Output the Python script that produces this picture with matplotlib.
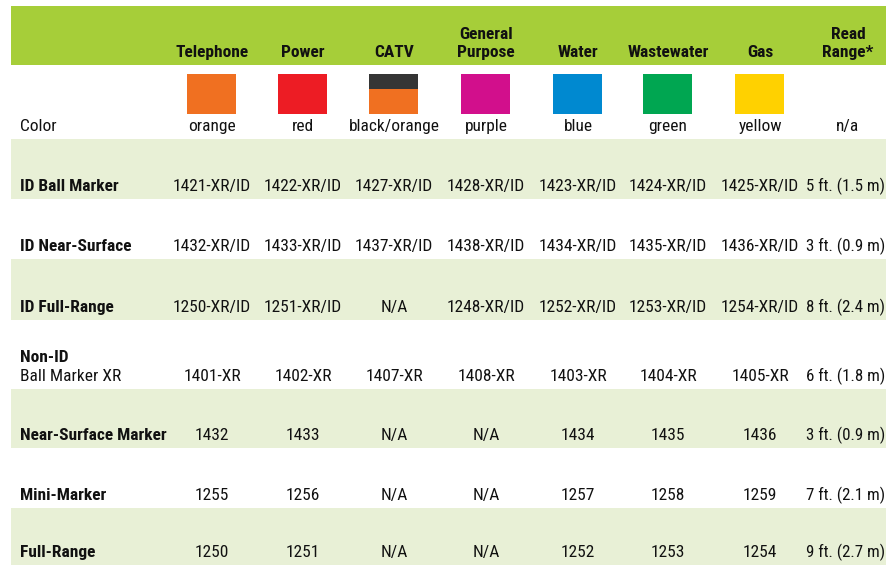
"""
Marker selection table: utility colours, part numbers and read ranges.
"""

import matplotlib.pyplot as plt
from matplotlib.patches import Rectangle

# ---- data -------------------------------------------------------------
columns = ["Telephone", "Power", "CATV", "General\nPurpose", "Water",
           "Wastewater", "Gas", "Read\nRange*"]
color_names = ["orange", "red", "black/orange", "purple", "blue",
               "green", "yellow", "n/a"]
swatches = [["#F07021"], ["#ED1C24"], ["#353535", "#F07021"], ["#D20F8C"],
            ["#0089D0"], ["#00A651"], ["#FFD100"], None]

row_labels = ["ID Ball Marker", "ID Near-Surface", "ID Full-Range",
              "Non-ID\nBall Marker XR", "Near-Surface Marker", "Mini-Marker",
              "Full-Range"]
telephone = ["1421-XR/ID", "1432-XR/ID", "1250-XR/ID", "1401-XR", "1432", "1255", "1250"]
power = ["1422-XR/ID", "1433-XR/ID", "1251-XR/ID", "1402-XR", "1433", "1256", "1251"]
catv = ["1427-XR/ID", "1437-XR/ID", "N/A", "1407-XR", "N/A", "N/A", "N/A"]
general = ["1428-XR/ID", "1438-XR/ID", "1248-XR/ID", "1408-XR", "N/A", "N/A", "N/A"]
water = ["1423-XR/ID", "1434-XR/ID", "1252-XR/ID", "1403-XR", "1434", "1257", "1252"]
wastewater = ["1424-XR/ID", "1435-XR/ID", "1253-XR/ID", "1404-XR", "1435", "1258", "1253"]
gas = ["1425-XR/ID", "1436-XR/ID", "1254-XR/ID", "1405-XR", "1436", "1259", "1254"]
read_range = ["5 ft. (1.5 m)", "3 ft. (0.9 m)", "8 ft. (2.4 m)", "6 ft. (1.8 m)",
              "3 ft. (0.9 m)", "7 ft. (2.1 m)", "9 ft. (2.7 m)"]
table = [telephone, power, catv, general, water, wastewater, gas, read_range]

# ---- layout (pixel space) ---------------------------------------------
W, H = 887, 565
col_x = [212, 303, 394, 486, 578, 668, 760, 846]
left = 11
label_x = 20
header_top, header_bot = 6, 65
color_bot = 139
row_edges = [139, 199, 259, 320, 389, 448, 508, 565]
sw_w, sw_top, sw_bot = 49, 74, 114

HEADER_GREEN = "#A6CE39"
LIGHT_GREEN = "#E8F0D6"
FONT = ["Roboto Condensed", "DejaVu Sans"]
FS = 12.5

fig = plt.figure(figsize=(W / 100, H / 100), dpi=100)
ax = fig.add_axes([0, 0, 1, 1])
ax.set_xlim(0, W)
ax.set_ylim(H, 0)
ax.axis("off")


def put(x, y, s, bold=False, ha="center", size=FS):
    ax.text(x, y, s, ha=ha, va="baseline", fontsize=size, family=FONT,
            fontweight="bold" if bold else "normal", color="#111111")


# header band
ax.add_patch(Rectangle((left, header_top), W - left, header_bot - header_top,
                       color=HEADER_GREEN, lw=0))
for x, name in zip(col_x, columns):
    x += 2 if "Read" in name else 0
    lines = name.split("\n")
    for k, line in enumerate(reversed(lines)):
        put(x, header_bot - 8 - 18 * k, line, bold=True)

# colour row
put(label_x, color_bot - 8, "Color", ha="left")
for x, name, sw in zip(col_x, color_names, swatches):
    put(x + (2 if name == "n/a" else 0), color_bot - 8, name)
    if sw is None:
        continue
    if len(sw) == 1:
        ax.add_patch(Rectangle((x - sw_w / 2, sw_top), sw_w, sw_bot - sw_top,
                               color=sw[0], lw=0))
    else:
        split = sw_top + 15
        ax.add_patch(Rectangle((x - sw_w / 2, sw_top), sw_w, split - sw_top,
                               color=sw[0], lw=0))
        ax.add_patch(Rectangle((x - sw_w / 2, split), sw_w, sw_bot - split,
                               color=sw[1], lw=0))

# body rows
for i, label in enumerate(row_labels):
    top, bot = row_edges[i], row_edges[i + 1]
    if i % 2 == 0:
        ax.add_patch(Rectangle((left, top), W - left, bot - top,
                               color=LIGHT_GREEN, lw=0))
    base = bot - 8
    if "\n" in label:
        first, second = label.split("\n")
        put(label_x, base - 19, first, bold=True, ha="left")
        put(label_x, base, second, ha="left")
    else:
        put(label_x, base, label, bold=True, ha="left")
    for j, (x, col) in enumerate(zip(col_x, table)):
        put(x, base, col[i], size=FS - 0.3 if j == len(table) - 1 else FS)

fig.savefig("out.png", dpi=100)
